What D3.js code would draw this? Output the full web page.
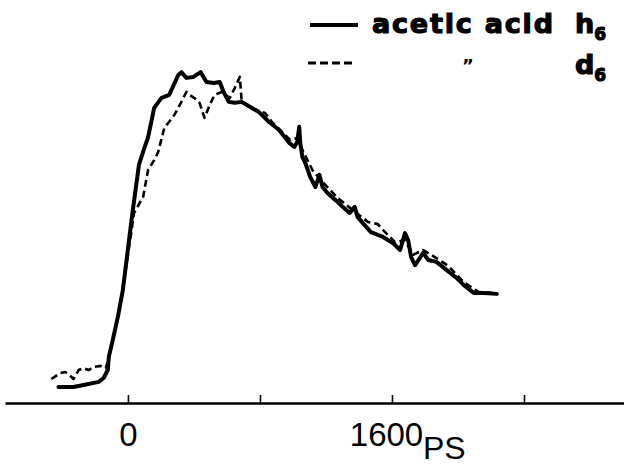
<!DOCTYPE html>
<head>
  <meta charset="utf-8">
  <script src="https://d3js.org/d3.v7.min.js"></script>
  <style>body{margin:0;background:#fff;}</style>
</head>
<body>

<div id="my_dataviz"></div>

<script>

  // acetic acid h6 (solid), time in ps, signal in arbitrary units
  var h6Time = [-421,-330,-269,-177,-147,-122,-116,-92,-61,-31,24,67,98,122,159,202,250,305,324,354,397,440,476,519,556,580,611,647,690,751,794,855,916,977,1008,1026,1038,1044,1057,1075,1105,1136,1160,1179,1209,1258,1301,1344,1374,1392,1472,1545,1606,1649,1679,1698,1716,1740,1789,1820,1869,1930,1991,2034,2095,2156,2235];
  var h6Signal = [2.5,2.5,3.1,4.1,5.3,7.8,11.9,17.2,24.4,32.8,55.6,72,77,80.5,89.7,92.8,93.8,100,100.9,99.1,99.4,100.9,97.8,97.5,97.8,94.7,91.6,91.3,91.6,89.7,88.4,85.3,82.8,78.8,77.5,79.1,83.8,78.8,74.4,72.5,68.1,65,68.8,65,63.1,60.9,58.8,56.9,58.8,55.6,50.9,49.4,47.5,45.3,50.6,48.4,43.1,40.6,44.4,42.2,41.6,39.1,36.6,34.4,31.9,31.9,31.6];

  // acetic acid d6 (dashed)
  var d6Time = [-464,-409,-379,-348,-330,-299,-269,-238,-208,-165,-134,-116,-92,-61,-31,37,92,122,159,183,220,281,324,354,373,403,434,464,495,525,568,617,647,678,690,751,831,873,934,983,1026,1057,1118,1179,1270,1362,1454,1514,1545,1618,1679,1728,1789,1869,1942,2034,2125,2217];
  var d6Signal = [5,6.9,7.2,5.9,5,7.8,8.4,7.8,8.8,9.1,8.4,11.9,17.2,24.4,32.8,56.9,61.9,70.3,73.4,75.9,83.4,87.5,91.6,94.7,93.8,92.8,91.3,86.6,90.6,93.8,94.7,92.8,95.9,99.4,91.3,89.7,88.1,85.3,82.2,79.7,80.3,76.6,70.3,66.6,61.6,57.8,54.1,53.4,51.6,47.8,48.4,43.8,45.3,42.8,40.3,35.3,32.2,31.9];

  var tickValues = [0, 800, 1600, 2400];
  var tickLabels = ["0", "", "1600", ""];
  var unitLabel = "PS";

  var legendNames = ["acetic acid", "\u201D"];
  var legendSpecies = ["h", "d"];
  var legendSub = ["6", "6"];

  var width = 624, height = 466;

  var svg = d3.select("#my_dataviz")
    .append("svg")
      .attr("width", width)
      .attr("height", height);

  var x = d3.scaleLinear()
    .domain([-745, 3006])
    .range([5, 624]);

  var y = d3.scaleLinear()
    .domain([0, 100])
    .range([395, 75]);

  // axis, ticks pointing up
  var axis = svg.append("g")
    .attr("transform", "translate(0,403)")
    .call(d3.axisBottom(x)
      .tickValues(tickValues)
      .tickFormat(function(d, i) { return tickLabels[i]; })
      .tickSizeInner(-8)
      .tickSizeOuter(0)
      .tickPadding(20));

  axis.select(".domain").attr("stroke", "#000").attr("stroke-width", 2.4);
  axis.selectAll(".tick line").attr("stroke", "#000").attr("stroke-width", 1.6);
  axis.selectAll(".tick text")
    .attr("fill", "#000")
    .style("font-family", "'Liberation Sans', Arial, sans-serif")
    .style("font-size", "33px");
  axis.selectAll(".tick text").filter(function(d) { return d === 1600; })
    .attr("dx", "-6");

  svg.append("text")
    .attr("x", x(1600) + 31)
    .attr("y", 459)
    .style("font-family", "'Liberation Sans', Arial, sans-serif")
    .style("font-size", "32px")
    .text(unitLabel);

  // curves
  var line = d3.line()
    .x(function(d) { return x(d[0]); })
    .y(function(d) { return y(d[1]); });

  svg.append("path")
    .datum(d3.zip(h6Time, h6Signal))
    .attr("d", line)
    .attr("fill", "none")
    .attr("stroke", "#000")
    .attr("stroke-width", 4)
    .attr("stroke-linejoin", "round")
    .attr("stroke-linecap", "round");

  svg.append("path")
    .datum(d3.zip(d6Time, d6Signal))
    .attr("d", line)
    .attr("fill", "none")
    .attr("stroke", "#000")
    .attr("stroke-width", 2.6)
    .attr("stroke-dasharray", "7,4")
    .attr("stroke-linejoin", "round");

  // legend
  var legendFont = "'DejaVu Sans', sans-serif";

  svg.append("line")
    .attr("x1", 310).attr("x2", 358).attr("y1", 25).attr("y2", 25)
    .attr("stroke", "#000").attr("stroke-width", 4);
  svg.append("line")
    .attr("x1", 308).attr("x2", 355).attr("y1", 63).attr("y2", 63)
    .attr("stroke", "#000").attr("stroke-width", 3).attr("stroke-dasharray", "8,4");

  svg.append("text")
    .attr("x", 372).attr("y", 33)
    .attr("textLength", 181)
    .attr("stroke", "#000").attr("stroke-width", 1.2)
    .style("font-family", legendFont)
    .style("font-weight", "bold")
    .style("font-size", "27px")
    .text(legendNames[0]);

  svg.append("text")
    .attr("x", 468).attr("y", 72)
    .attr("text-anchor", "middle")
    .style("font-family", legendFont)
    .style("font-weight", "bold")
    .style("font-size", "18px")
    .text(legendNames[1]);

  var rowY = [33, 74];
  legendSpecies.forEach(function(s, i) {
    var t = svg.append("text")
      .attr("x", 575).attr("y", rowY[i])
      .attr("stroke", "#000").attr("stroke-width", 1.2)
      .style("font-family", legendFont)
      .style("font-weight", "bold")
      .style("font-size", "27px")
      .text(s);
    t.append("tspan")
      .attr("dy", 7)
      .style("font-size", "17px")
      .text(legendSub[i]);
  });

</script>

</body>
